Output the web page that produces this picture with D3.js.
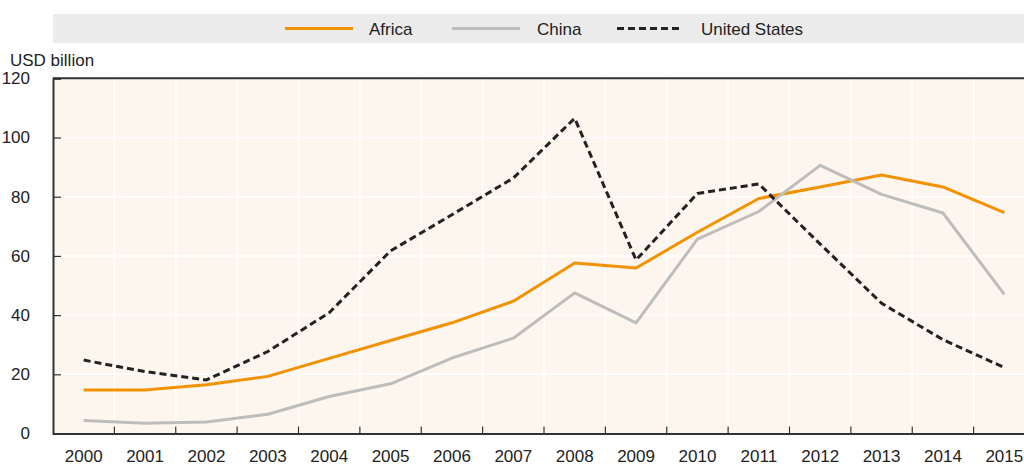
<!DOCTYPE html>
<html>
<head>
<meta charset="utf-8">
<script src="https://cdn.jsdelivr.net/npm/d3@7"></script>
<style>
  html, body { margin: 0; padding: 0; background: #ffffff; }
  svg { display: block; font-family: "Liberation Sans", Arial, sans-serif; }
</style>
</head>
<body>
<svg id="chart" width="1024" height="465"></svg>
<script>
// Annual values, USD billion
const years = [2000, 2001, 2002, 2003, 2004, 2005, 2006, 2007, 2008, 2009, 2010, 2011, 2012, 2013, 2014, 2015];
const africa = [14.7, 14.7, 16.5, 19.3, 25.4, 31.4, 37.4, 44.7, 57.6, 55.9, 68.0, 79.4, 83.3, 87.3, 83.3, 74.6];
const china  = [4.4, 3.5, 3.9, 6.5, 12.5, 16.8, 25.5, 32.2, 47.5, 37.4, 65.7, 75.0, 90.6, 80.8, 74.5, 47.0];
const unitedStates = [24.8, 20.9, 18.1, 27.7, 40.8, 61.7, 73.9, 86.3, 106.5, 58.6, 81.1, 84.3, 64.0, 44.0, 31.7, 22.3];
const yTicks = [0, 20, 40, 60, 80, 100, 120];
const seriesNames = ["Africa", "China", "United States"];

const series = [
  { name: seriesNames[0], values: africa, color: "#f39200", dash: null },
  { name: seriesNames[1], values: china, color: "#bdbdbb", dash: null },
  { name: seriesNames[2], values: unitedStates, color: "#222222", dash: "7,4" }
];

const svg = d3.select("#chart");
const plotLeft = 53, plotRight = 1035, plotTop = 78.3, plotBottom = 433.5;

const x = d3.scaleBand().domain(years).range([plotLeft, plotRight]).padding(0);
const y = d3.scaleLinear().domain([0, 120]).range([plotBottom, plotTop]);
const cx = d => x(d) + x.bandwidth() / 2;

// Legend band
svg.append("rect").attr("x", plotLeft).attr("y", 14).attr("width", 1024 - plotLeft).attr("height", 29)
  .attr("fill", "#ebebeb");
const legendPos = [
  { x1: 285, x2: 353, tx: 369 },
  { x1: 452, x2: 520, tx: 537 },
  { x1: 617, x2: 681, tx: 701 }
];
series.forEach((s, i) => {
  const p = legendPos[i];
  svg.append("line").attr("x1", p.x1).attr("x2", p.x2).attr("y1", 28.5).attr("y2", 28.5)
    .attr("stroke", s.color).attr("stroke-width", 3)
    .attr("stroke-dasharray", s.dash);
  svg.append("text").attr("x", p.tx).attr("y", 34.5).attr("font-size", 17).attr("fill", "#222")
    .text(s.name);
});

// Plot background
svg.append("rect").attr("x", plotLeft).attr("y", plotTop).attr("width", plotRight - plotLeft)
  .attr("height", plotBottom - plotTop).attr("fill", "#fdf6ef");

// Grid lines
svg.append("g").selectAll("line").data(yTicks.filter(t => t > 0 && t < 120)).join("line")
  .attr("x1", plotLeft).attr("x2", plotRight).attr("y1", d => y(d)).attr("y2", d => y(d))
  .attr("stroke", "#ffffff").attr("stroke-width", 1.5);
svg.append("g").selectAll("line").data(years.slice(1)).join("line")
  .attr("x1", d => x(d)).attr("x2", d => x(d)).attr("y1", plotTop).attr("y2", plotBottom)
  .attr("stroke", "#ffffff").attr("stroke-width", 1.5);

// Series lines
const line = d3.line().x((d, i) => cx(years[i])).y(d => y(d));
series.forEach(s => {
  svg.append("path").datum(s.values).attr("d", line)
    .attr("fill", "none").attr("stroke", s.color).attr("stroke-width", 3)
    .attr("stroke-linejoin", "round")
    .attr("stroke-dasharray", s.dash);
});

// Frame: top border, left and bottom axes
svg.append("line").attr("x1", plotLeft).attr("x2", 1024).attr("y1", plotTop).attr("y2", plotTop)
  .attr("stroke", "#333").attr("stroke-width", 2);

const yAxis = d3.axisLeft(y).tickValues(yTicks).tickSize(-8).tickPadding(23);
const gy = svg.append("g").attr("transform", `translate(${plotLeft},0)`).call(yAxis);
gy.select(".domain").attr("stroke", "#333").attr("stroke-width", 2);
gy.selectAll(".tick line").attr("stroke", "#333").attr("stroke-width", 1.2);
gy.selectAll(".tick text").attr("font-size", 17).attr("fill", "#222")
  .attr("font-family", "Liberation Sans, Arial, sans-serif");

const xAxis = d3.axisBottom(x).tickSize(0).tickPadding(16);
const gx = svg.append("g").attr("transform", `translate(0,${plotBottom})`).call(xAxis);
gx.select(".domain").attr("stroke", "#333").attr("stroke-width", 2);
gx.selectAll(".tick text").attr("font-size", 17).attr("fill", "#222")
  .attr("font-family", "Liberation Sans, Arial, sans-serif");
// Tick marks at the boundaries between years
svg.append("g").selectAll("line").data(years.slice(1)).join("line")
  .attr("x1", d => x(d)).attr("x2", d => x(d)).attr("y1", plotBottom).attr("y2", plotBottom - 7)
  .attr("stroke", "#333").attr("stroke-width", 1.2);

// Unit label
svg.append("text").attr("x", 10).attr("y", 66).attr("font-size", 17).attr("fill", "#222")
  .text("USD billion");
</script>
</body>
</html>
